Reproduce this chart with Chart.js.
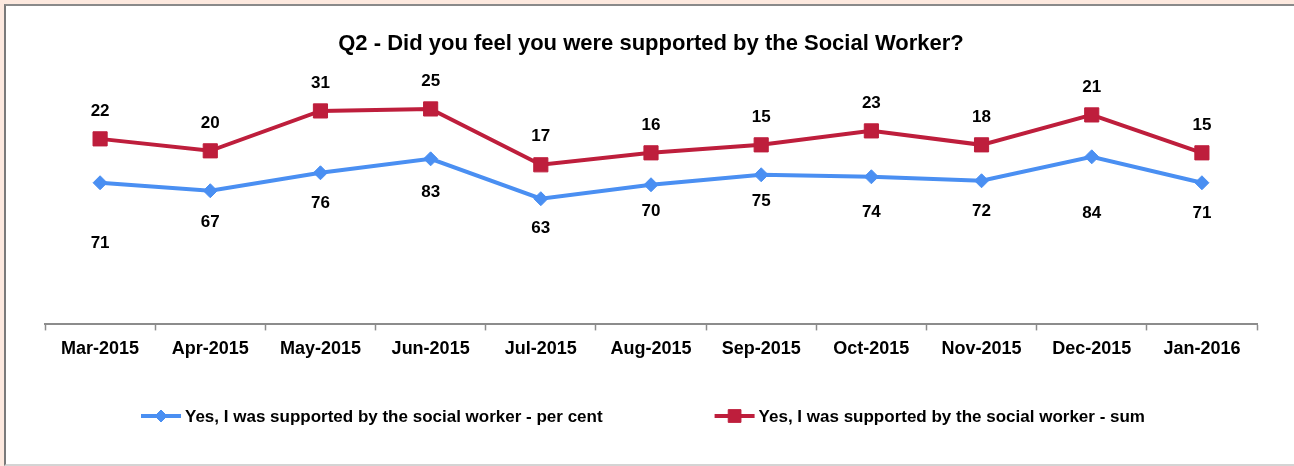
<!DOCTYPE html>
<html>
<head>
<meta charset="utf-8">
<script src="https://cdn.jsdelivr.net/npm/chart.js@4/dist/chart.umd.min.js"></script>
<style>
  html, body { margin: 0; padding: 0; background: #fde9df; width: 1294px; height: 466px; overflow: hidden; }
  #frame {
    position: absolute; left: 4px; top: 4px; width: 1288px; height: 458px; background: #fff;
    border-top: 2px solid #8a8a8a; border-left: 2px solid #7a7a7a; border-bottom: 2px solid #d4d4d4;
  }
  #wrap { position: relative; width: 1288px; height: 458px; }
</style>
</head>
<body>
<div id="frame"><div id="wrap"><canvas id="q2Chart"></canvas></div></div>
<script>
// Q2 monthly results
const months = ['Mar-2015', 'Apr-2015', 'May-2015', 'Jun-2015', 'Jul-2015', 'Aug-2015',
  'Sep-2015', 'Oct-2015', 'Nov-2015', 'Dec-2015', 'Jan-2016'];
const perCent = [71, 67, 76, 83, 63, 70, 75, 74, 72, 84, 71];
const sums = [22, 20, 31, 25, 17, 16, 15, 23, 18, 21, 15];
const seriesNames = [
  'Yes, I was supported by the social worker - per cent',
  'Yes, I was supported by the social worker - sum'
];

// how far below each per-cent point its label sits (px)
const perCentLabelDrop = [61, 32, 31, 33, 30, 27, 27, 36, 31, 56, 31];
const sumLabelRise = 28;

const BLUE = '#4a8ff2';
const RED = '#be1e3c';
const FONT = '"Liberation Sans", Arial, sans-serif';

const valueLabels = {
  id: 'valueLabels',
  afterDatasetsDraw(chart) {
    const ctx = chart.ctx;
    ctx.save();
    ctx.font = 'bold 17px ' + FONT;
    ctx.fillStyle = '#000';
    ctx.textAlign = 'center';
    ctx.textBaseline = 'middle';
    chart.data.datasets.forEach((ds, di) => {
      chart.getDatasetMeta(di).data.forEach((pt, i) => {
        const dy = di === 0 ? perCentLabelDrop[i] : -sumLabelRise;
        ctx.fillText(String(ds.data[i]), pt.x, pt.y + dy);
      });
    });
    ctx.restore();
  }
};

// legend: line sample with marker, wide gap between entries
const lineLegend = {
  id: 'lineLegend',
  afterDraw(chart) {
    const ctx = chart.ctx;
    ctx.save();
    ctx.font = 'bold 17px ' + FONT;
    const sample = 40, gap = 4, spacing = 112, y = 410;
    const items = chart.data.datasets.map(ds => ({ ds, w: sample + gap + ctx.measureText(ds.label).width }));
    const total = items.reduce((s, it) => s + it.w, 0) + spacing * (items.length - 1);
    let x = chart.width / 2 - 7 - total / 2;
    items.forEach(({ ds, w }) => {
      ctx.strokeStyle = ds.borderColor;
      ctx.lineWidth = 4;
      ctx.beginPath();
      ctx.moveTo(x, y);
      ctx.lineTo(x + sample, y);
      ctx.stroke();
      ctx.fillStyle = ds.pointBackgroundColor;
      ctx.lineWidth = 1;
      Chart.helpers.drawPoint(ctx, { pointStyle: ds.pointStyle, radius: ds.pointRadius - 1, borderWidth: 1 }, x + sample / 2, y);
      ctx.fillStyle = '#000';
      ctx.textAlign = 'left';
      ctx.textBaseline = 'middle';
      ctx.fillText(ds.label, x + sample + gap, y + 1);
      x += w + spacing;
    });
    ctx.restore();
  }
};

new Chart(document.getElementById('q2Chart'), {
  type: 'line',
  data: {
    labels: months,
    datasets: [
      {
        label: seriesNames[0], data: perCent,
        borderColor: BLUE, backgroundColor: BLUE, borderWidth: 4,
        pointStyle: 'rectRot', pointRadius: 7, pointBackgroundColor: BLUE, pointBorderColor: BLUE, pointBorderWidth: 1,
        fill: false, tension: 0
      },
      {
        label: seriesNames[1], data: sums,
        borderColor: RED, backgroundColor: RED, borderWidth: 4,
        pointStyle: 'rect', pointRadius: 10, pointBackgroundColor: RED, pointBorderColor: RED, pointBorderWidth: 1,
        fill: false, tension: 0
      }
    ]
  },
  options: {
    responsive: true,
    maintainAspectRatio: false,
    animation: false,
    layout: { padding: { left: 39, right: 37, top: 0, bottom: 96 } },
    plugins: {
      legend: { display: false },
      tooltip: { enabled: false },
      title: {
        display: true,
        text: 'Q2 - Did you feel you were supported by the Social Worker?',
        color: '#000',
        font: { family: FONT, size: 22, weight: 'bold', lineHeight: 1.2 },
        padding: { top: 25, bottom: 27.6 }
      }
    },
    scales: {
      x: {
        offset: true,
        grid: { display: true, offset: true, drawOnChartArea: false, drawTicks: true, tickLength: 6, tickColor: '#8c8c8c', tickWidth: 1.5 },
        border: { display: true, color: '#8c8c8c', width: 2 },
        ticks: { color: '#000', padding: 8, maxRotation: 0, font: { family: FONT, size: 18, weight: 'bold' } }
      },
      y: {
        stacked: true,
        display: false,
        min: 0,
        max: 120
      }
    }
  },
  plugins: [valueLabels, lineLegend]
});
</script>
</body>
</html>
